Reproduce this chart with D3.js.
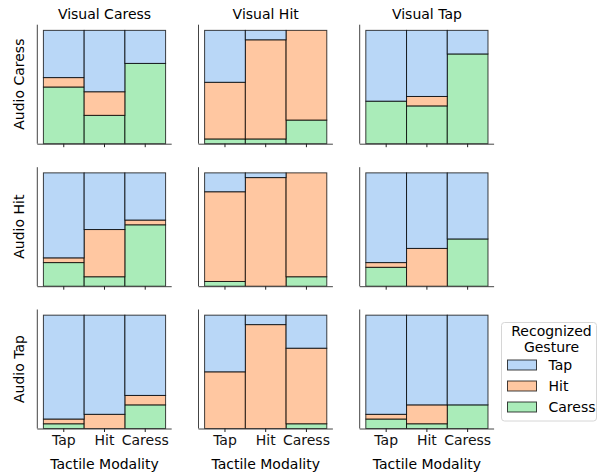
<!DOCTYPE html>
<html>
<head>
<meta charset="utf-8">
<script src="https://cdn.jsdelivr.net/npm/d3@7"></script>
<style>
  body { margin: 0; background: #fff; }
  svg { display: block; font-family: "DejaVu Sans", sans-serif; }
</style>
</head>
<body>
<svg width="597" height="472"></svg>
<script>
// facet labels
const visualModes = ["Visual Caress", "Visual Hit", "Visual Tap"];
const audioModes = ["Audio Caress", "Audio Hit", "Audio Tap"];
const tactileModes = ["Tap", "Hit", "Caress"];
const gestures = ["Tap", "Hit", "Caress"]; // legend order
const stackOrder = ["Caress", "Hit", "Tap"]; // bottom to top

// recognized counts per bar [caress, hit, tap]
// rows = audio, cols = visual, each with bars for tactile Tap, Hit, Caress
const audioCaress = [
  [[12, 2, 10], [6, 5, 13], [17, 0, 7]],
  [[1, 12, 11], [1, 21, 2], [5, 19, 0]],
  [[9, 0, 15], [8, 2, 14], [19, 0, 5]]
];
const audioHit = [
  [[5, 1, 18], [2, 10, 12], [13, 1, 10]],
  [[1, 19, 4], [0, 23, 1], [2, 22, 0]],
  [[4, 1, 19], [0, 8, 16], [10, 0, 14]]
];
const audioTap = [
  [[1, 1, 22], [0, 3, 21], [5, 2, 17]],
  [[0, 12, 12], [0, 22, 2], [1, 16, 7]],
  [[2, 1, 21], [1, 4, 19], [5, 0, 19]]
];
const panelData = [audioCaress, audioHit, audioTap];

const colors = { Tap: "#a1c9f4", Hit: "#ffb482", Caress: "#8de5a1" };

const svg = d3.select("svg");

const panelW = 134.4, panelH = 119;
const colLeft = [37.3, 198.5, 359.7];
const rowBottom = [143.7, 286.2, 428.5];

const stack = d3.stack()
  .keys(stackOrder)
  .offset(d3.stackOffsetExpand);

panelData.forEach((rowData, r) => {
  rowData.forEach((bars, c) => {
    const x0 = colLeft[c], y0 = rowBottom[r];
    const margin = panelW / 1.1 * 0.05;
    const x = d3.scaleBand()
      .domain(tactileModes)
      .range([x0 + margin, x0 + panelW - margin])
      .padding(0);
    const y = d3.scaleLinear().domain([0, 1.05]).range([y0, y0 - panelH]);

    const rows = bars.map((v, i) => ({ tactile: tactileModes[i], Caress: v[0], Hit: v[1], Tap: v[2] }));
    const series = stack(rows);

    const g = svg.append("g");
    g.selectAll("g.layer")
      .data(series)
      .join("g")
      .attr("class", "layer")
      .attr("fill", d => colors[d.key])
      .attr("fill-opacity", 0.75)
      .selectAll("rect")
      .data(d => d)
      .join("rect")
      .attr("x", d => x(d.data.tactile))
      .attr("width", x.bandwidth())
      .attr("y", d => y(d[1]))
      .attr("height", d => y(d[0]) - y(d[1]))
      .attr("stroke", "#000")
      .attr("stroke-opacity", 0.75)
      .attr("stroke-width", 1);

    // bottom axis
    const xAxis = g.append("g")
      .attr("transform", `translate(0,${y0})`)
      .call(d3.axisBottom(x).tickSize(3.5).tickPadding(3).tickFormat(r === 2 ? null : ""));
    xAxis.select(".domain").attr("d", `M${x0},0.5H${x0 + panelW}`).attr("stroke", "#444");
    xAxis.selectAll(".tick line").attr("stroke", "#222");
    xAxis.selectAll(".tick text")
      .attr("fill", "#111")
      .style("font-size", "14px")
      .style("font-family", "DejaVu Sans");

    // left spine
    g.append("line")
      .attr("x1", x0).attr("x2", x0)
      .attr("y1", y0).attr("y2", y0 - panelH)
      .attr("stroke", "#444");

    if (r === 0) {
      g.append("text")
        .attr("x", x0 + panelW / 2)
        .attr("y", 19)
        .attr("text-anchor", "middle")
        .style("font-size", "14px")
        .text(visualModes[c]);
    }
    if (r === 2) {
      g.append("text")
        .attr("x", x0 + panelW / 2)
        .attr("y", y0 + 40)
        .attr("text-anchor", "middle")
        .style("font-size", "14px")
        .text("Tactile Modality");
    }
    if (c === 0) {
      g.append("text")
        .attr("transform", `translate(24,${y0 - panelH / 2}) rotate(-90)`)
        .attr("text-anchor", "middle")
        .style("font-size", "14px")
        .text(audioModes[r]);
    }
  });
});

// legend
const lg = svg.append("g").attr("transform", "translate(501.5,322.5)");
lg.append("rect")
  .attr("width", 95).attr("height", 98.5)
  .attr("rx", 3)
  .attr("fill", "#fff").attr("fill-opacity", 0.8)
  .attr("stroke", "#d6d6d6");
lg.append("text")
  .attr("x", 50).attr("y", 13.5)
  .attr("text-anchor", "middle")
  .style("font-size", "14px")
  .text("Recognized");
lg.append("text")
  .attr("x", 50).attr("y", 29)
  .attr("text-anchor", "middle")
  .style("font-size", "14px")
  .text("Gesture");
const item = lg.selectAll("g.item")
  .data(gestures)
  .join("g")
  .attr("class", "item")
  .attr("transform", (d, i) => `translate(6,${37.5 + i * 21})`);
item.append("rect")
  .attr("width", 29).attr("height", 10)
  .attr("fill", d => colors[d]).attr("fill-opacity", 0.75)
  .attr("stroke", "#000").attr("stroke-opacity", 0.75);
item.append("text")
  .attr("x", 41).attr("y", 10)
  .style("font-size", "14px")
  .text(d => d);
</script>
</body>
</html>
